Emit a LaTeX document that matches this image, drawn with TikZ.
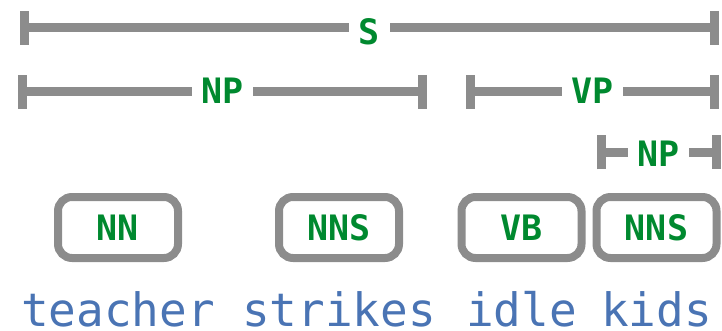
\documentclass[tikz,border=0pt]{standalone}
\usepackage{fontspec}
\setmonofont{DejaVu Sans Mono}
\usepackage{tikz}
\usetikzlibrary{arrows.meta, positioning}
\definecolor{spangray}{RGB}{140,140,140}
\definecolor{taggreen}{RGB}{0,137,47}
\definecolor{wordblue}{RGB}{74,116,180}

\begin{document}
\begin{tikzpicture}[x=1pt, y=-1pt,
    span/.style={draw=spangray, line width=9pt, {Bar[width=34pt]}-{Bar[width=34pt]}},
    spanlabel/.style={midway, anchor=base, yshift=-12pt, fill=white, inner xsep=9.5pt, inner ysep=2pt,
        text=taggreen, font=\ttfamily\bfseries\fontsize{35}{40}\selectfont},
    tagbox/.style={draw=spangray, line width=8pt, rounded corners=14pt, minimum width=120pt,
        minimum height=61pt, inner sep=0pt, text=taggreen, font=\ttfamily\bfseries\fontsize{35}{40}\selectfont},
    word/.style={anchor=base, inner sep=0pt, text=wordblue, font=\ttfamily\fontsize{46}{50}\selectfont}]
    \useasboundingbox (0,0) rectangle (722,331);
    % tags and words
    \foreach \x/\lbl/\word/\n in {118/NN/teacher/1, 339/NNS/strikes/2, 521.5/VB/idle/3, 656.5/NNS/kids/4}{
        \node[tagbox] (tag\n) at (\x,227.5) {\lbl};
        \node[word] (word\n) at (\x,326.5) {\word};
    }
    % span ends
    \coordinate (sL) at (20,28);
    \coordinate (sR) at (719,28);
    \coordinate (npL) at (18,91.8);
    \coordinate (npR) at (426.5,91.8);
    \coordinate (vpL) at (465.5,91.8);
    \coordinate (vpR) at (719,91.8);
    \coordinate (objL) at (596.5,152.5);
    \coordinate (objR) at (720.5,152.5);
    \draw[span] (sL) -- node[spanlabel, yshift=-5pt] (sLab) {S} (sR);
    \draw[span] (npL) -- node[spanlabel] (npLab) {NP} (npR);
    \draw[span] (vpL) -- node[spanlabel] (vpLab) {VP} (vpR);
    \draw[span] (objL) -- node[spanlabel, yshift=-2pt] (objLab) {NP} (objR);
\end{tikzpicture}
\end{document}
